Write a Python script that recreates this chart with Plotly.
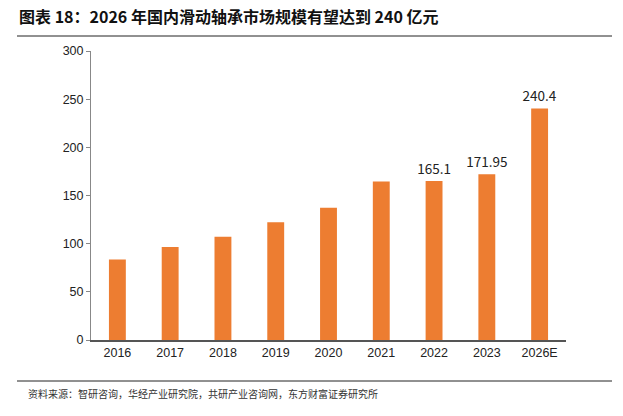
import plotly.graph_objects as go

categories = ["2016", "2017", "2018", "2019", "2020", "2021", "2022", "2023", "2026E"]
values = [83.6, 96.5, 107.2, 122.2, 137.2, 164.6, 165.1, 171.95, 240.4]
labels = ["", "", "", "", "", "", "165.1", "171.95", "240.4"]
y_ticks = [0, 50, 100, 150, 200, 250, 300]

W, H = 623, 416
L, R, T, B = 91, 57, 51, 76
pw, ph = W - L - R, H - T - B

def px(x):
    return (x - L) / pw

def py(y):
    return (H - B - y) / ph

fig = go.Figure()
fig.add_trace(go.Bar(
    x=categories, y=values,
    marker=dict(color="#ED7D31", line=dict(width=0)),
    text=labels, textposition="outside", cliponaxis=False,
    constraintext="none",
    textfont=dict(family="Noto Sans CJK SC", size=13.5, color="#222222"),
))

fig.update_layout(
    width=W, height=H,
    margin=dict(l=L, r=R, t=T, b=B),
    paper_bgcolor="white", plot_bgcolor="white",
    bargap=0.68,
    showlegend=False,
    font=dict(family="Liberation Sans, Arial", size=12, color="#222222"),
    xaxis=dict(
        showline=True, linecolor="#555555", linewidth=1.5,
        ticks="", tickfont=dict(size=12.5), showgrid=False,
    ),
    yaxis=dict(
        range=[0, 300], tickvals=y_ticks, showgrid=False,
        showline=True, linecolor="#888888", linewidth=1,
        ticks="outside", ticklen=4, tickcolor="#888888",
        tickfont=dict(size=12.5), zeroline=False,
    ),
)

fig.add_annotation(
    text="<b>图表 18：2026 年国内滑动轴承市场规模有望达到 240 亿元</b>",
    xref="paper", yref="paper", x=px(17), y=py(16),
    xanchor="left", yanchor="middle", showarrow=False,
    font=dict(family="Noto Sans CJK SC", size=16, color="#111111"),
)
fig.add_shape(type="line", xref="paper", yref="paper",
              x0=px(17), x1=px(612), y0=py(36), y1=py(36),
              line=dict(color="#222222", width=1))
fig.add_shape(type="line", xref="paper", yref="paper",
              x0=px(17), x1=px(612), y0=py(381), y1=py(381),
              line=dict(color="#222222", width=1))
fig.add_annotation(
    text="资料来源：智研咨询，华经产业研究院，共研产业咨询网，东方财富证券研究所",
    xref="paper", yref="paper", x=px(26), y=py(393),
    xanchor="left", yanchor="middle", showarrow=False,
    font=dict(family="Noto Sans CJK SC", size=10, color="#333333"),
)

fig.write_html("out.html", config={"displayModeBar": False},
               post_script="document.body.style.margin='0';")
